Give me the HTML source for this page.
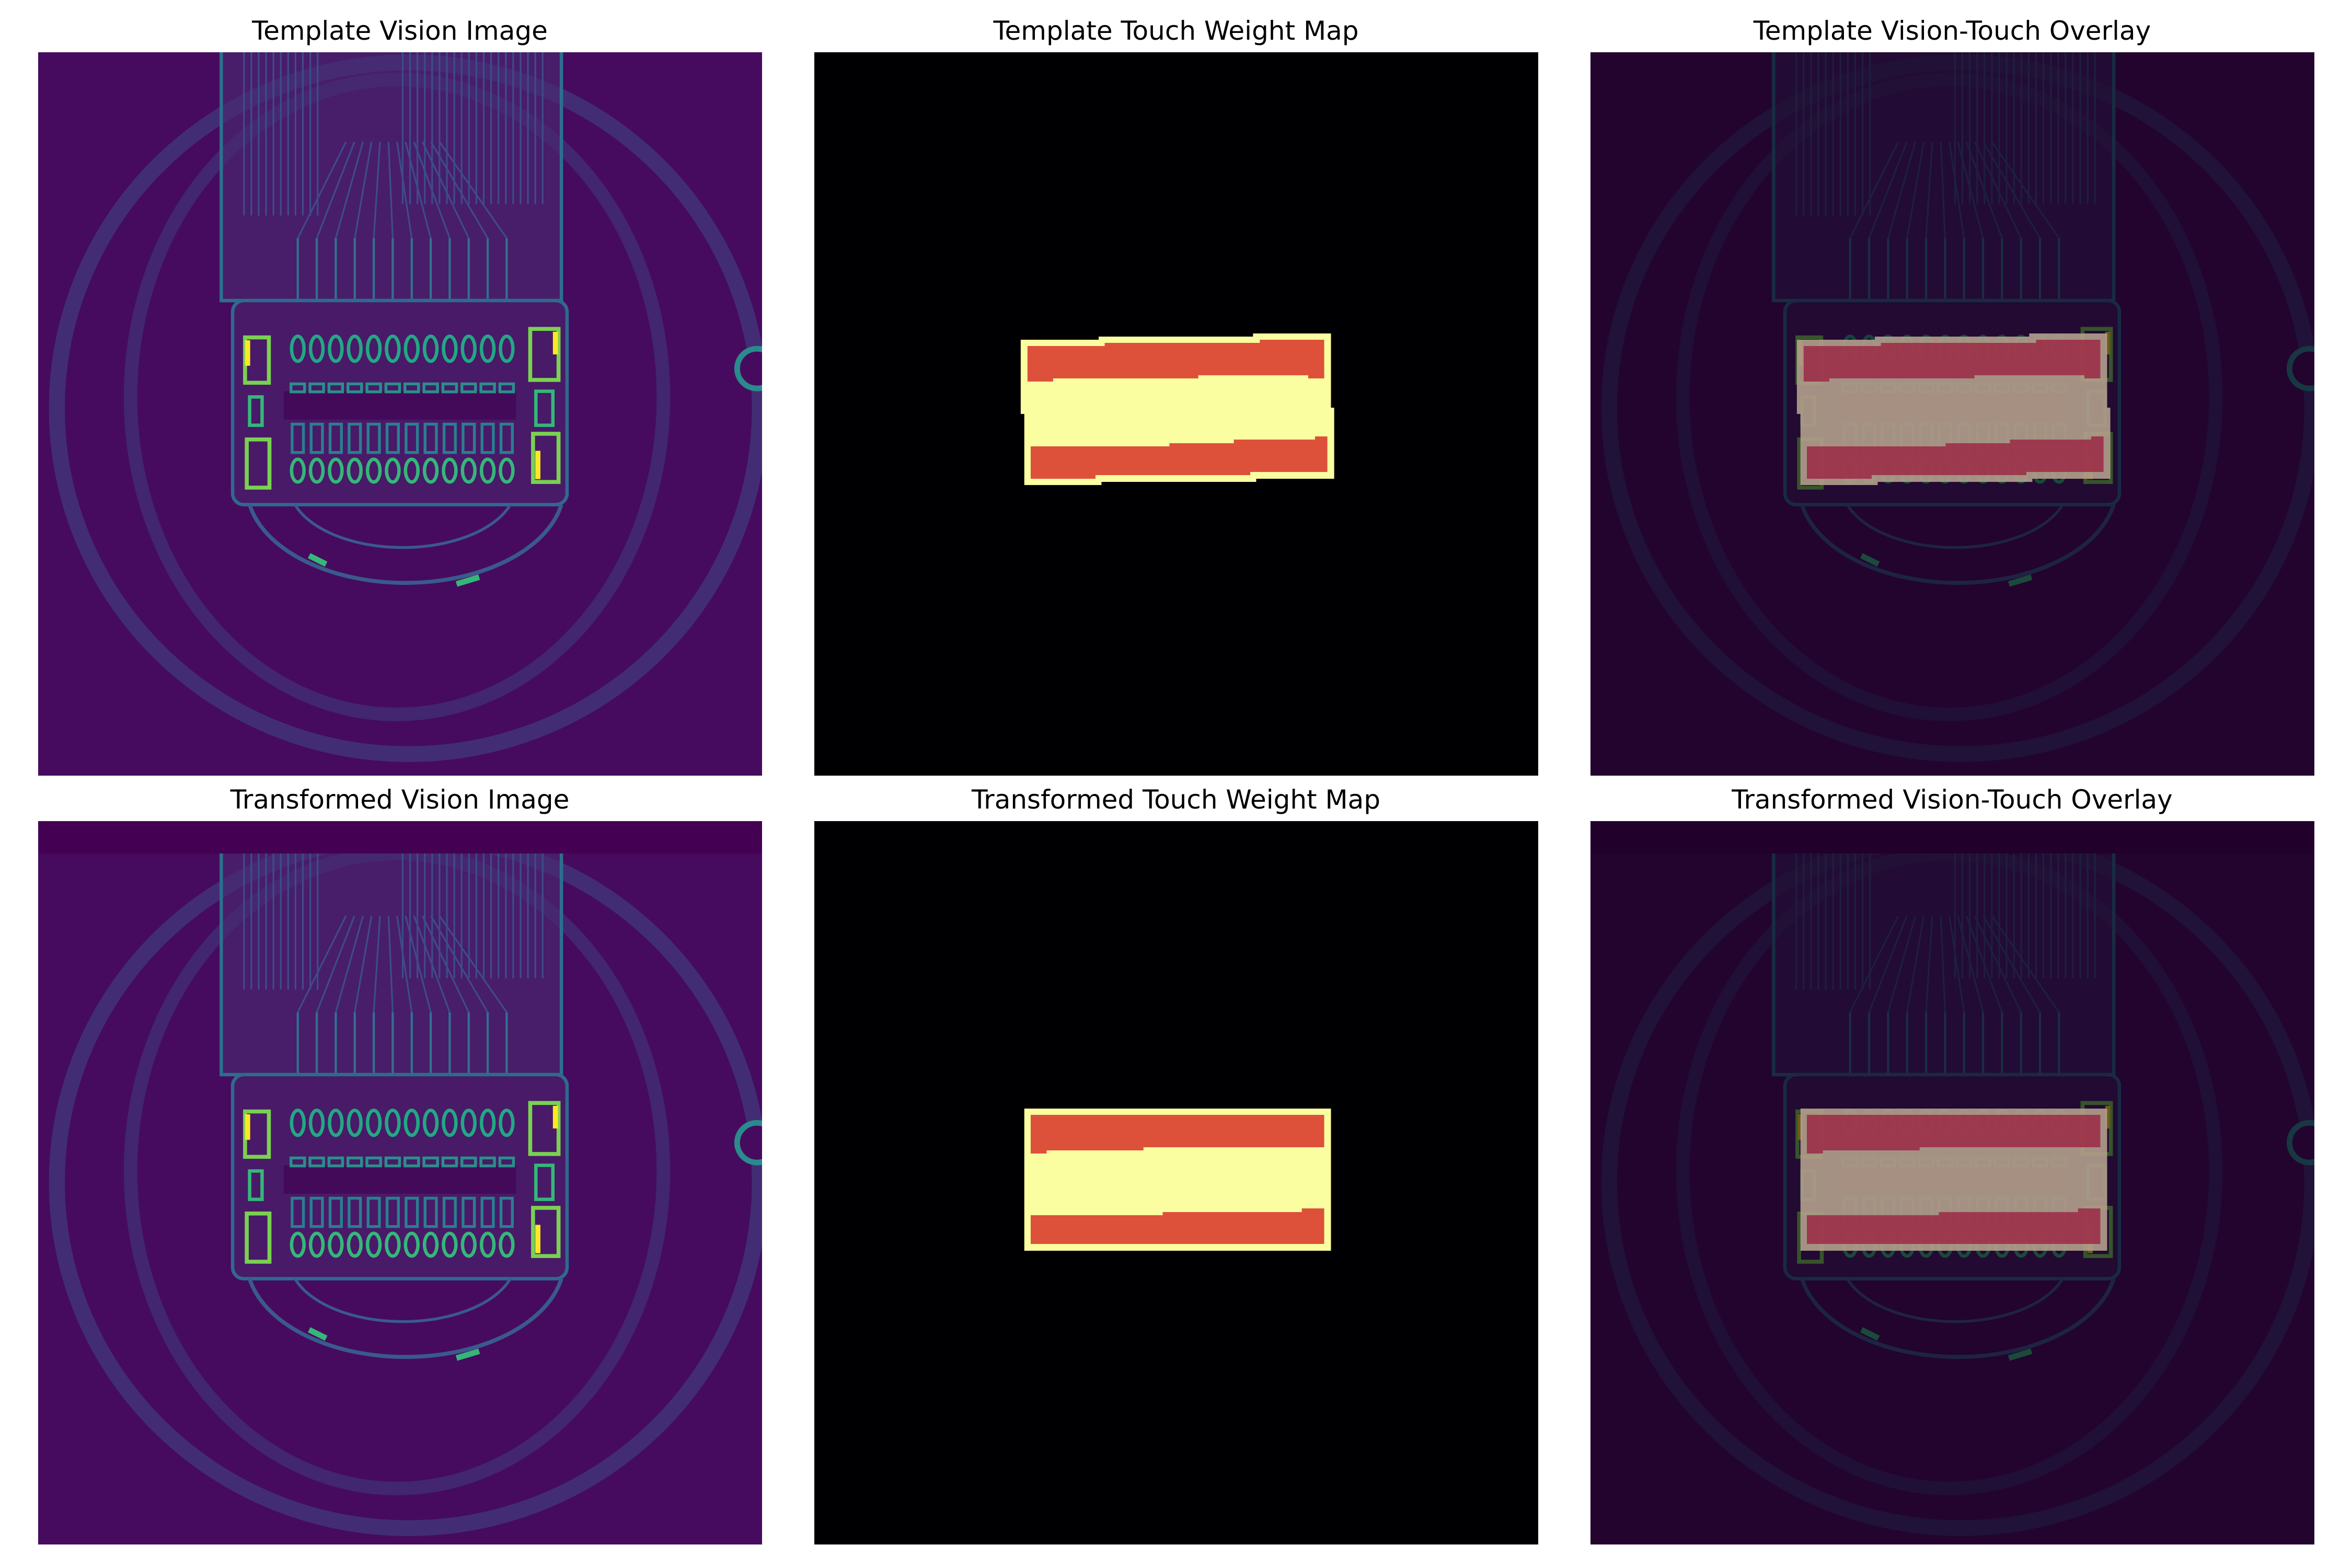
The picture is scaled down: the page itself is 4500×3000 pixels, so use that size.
<!DOCTYPE html>
<html><head><meta charset="utf-8"><style>
html,body{margin:0;padding:0;background:#fff;width:4500px;height:3000px;overflow:hidden}
svg text{font-family:"DejaVu Sans","Liberation Sans",sans-serif;font-size:50px;fill:#000}
</style></head><body>
<svg id="fig" width="4500" height="3000" viewBox="0 0 4500 3000" xmlns="http://www.w3.org/2000/svg">
<defs>
<clipPath id="pc"><rect x="0" y="0" width="1385" height="1384"/></clipPath>
<g id="vis">
 <g transform="scale(1.0846) translate(-67,-92)">
  <rect x="0" y="0" width="1500" height="1500" fill="#460b5e"/>
  <ellipse cx="720" cy="720" rx="620" ry="610" fill="none" stroke="#3d4f8a" stroke-opacity="0.5" stroke-width="28"/>
  <ellipse cx="700" cy="700" rx="470" ry="560" fill="none" stroke="#3d4f8a" stroke-opacity="0.4" stroke-width="24"/>
  <circle cx="1335" cy="650" r="35" fill="#460b5e" stroke="#2b8a8c" stroke-width="10"/>
  <rect x="390" y="60" width="600" height="470" fill="#4a2a72" fill-opacity="0.6" stroke="#2d6f8e" stroke-width="6"/>
  <g id="traces" stroke="#3e4b8a" stroke-width="3" fill="none"></g>
  <rect x="410" y="530" width="590" height="360" rx="20" fill="#481a68" stroke="#2f6a8e" stroke-width="6"/>
  <rect x="500" y="690" width="410" height="50" fill="#440a5a"/>
  <g id="pads" fill="none"></g>
  <rect x="432" y="595" width="42" height="80" fill="none" stroke="#7ad151" stroke-width="7"/>
  <rect x="432" y="600" width="9" height="45" fill="#fde725"/>
  <rect x="440" y="700" width="22" height="50" fill="none" stroke="#35b779" stroke-width="6"/>
  <rect x="435" y="775" width="40" height="85" fill="none" stroke="#7ad151" stroke-width="7"/>
  <rect x="935" y="580" width="50" height="90" fill="none" stroke="#7ad151" stroke-width="7"/>
  <rect x="975" y="585" width="9" height="40" fill="#fde725"/>
  <rect x="945" y="690" width="30" height="60" fill="none" stroke="#35b779" stroke-width="6"/>
  <rect x="940" y="765" width="45" height="85" fill="none" stroke="#7ad151" stroke-width="7"/>
  <rect x="944" y="795" width="9" height="50" fill="#fde725"/>
  <path d="M440,890 A280,170 0 0 0 990,890" fill="none" stroke="#3a5a8c" stroke-width="7"/>
  <path d="M520,890 A200,110 0 0 0 900,890" fill="none" stroke="#3a5a8c" stroke-width="5"/>
  <path d="M545,980 l30,15 M805,1030 l40,-12" stroke="#35b779" stroke-width="10"/>
 </g>
</g>
</defs>

<g id="panels"></g>
</svg>
<script>
// Touch weight map step outlines (reference zoom units)
const topOuter=[[592,300],[787,300],[787,282],[1173,282],[1173,264],[1368,264],[1368,690],[1376,690],[1376,1098],[1181,1098],[1181,1116],[794,1116],[794,1134],[601,1134],[601,726],[592,726]];
const topRedA=[[609,336],[802,336],[802,318],[1190,318],[1190,300],[1351,300],[1351,522],[1311,522],[1311,504],[1036,504],[1036,522],[673,522],[673,540],[609,540]];
const topRedB=[[617,912],[964,912],[964,894],[1125,894],[1125,873],[1328,873],[1328,855],[1359,855],[1359,1059],[1166,1059],[1166,1077],[779,1077],[779,1098],[617,1098]];
const botOuter=[[601,213],[1368,213],[1368,1029],[601,1029]];
const botRedA=[[617,249],[1351,249],[1351,435],[899,435],[899,453],[657,453],[657,471],[617,471]];
const botRedB=[[617,825],[947,825],[947,807],[1295,807],[1295,786],[1351,786],[1351,990],[617,990]];
const titles=["Template Vision Image","Template Touch Weight Map","Template Vision-Touch Overlay","Transformed Vision Image","Transformed Touch Weight Map","Transformed Vision-Touch Overlay"];
const colX=[73,1558,3043], rowY=[100,1571];
const NS="http://www.w3.org/2000/svg";
function mk(t,a,p){const e=document.createElementNS(NS,t);for(const k in a)e.setAttribute(k,a[k]);p.appendChild(e);return e;}
const pts=a=>a.map(p=>p.join(',')).join(' ');
const tr=document.getElementById('traces');
for(let x=430;x<=560;x+=13){mk('line',{x1:x,y1:92,x2:x,y2:380},tr);}
for(let x=710;x<=960;x+=13){mk('line',{x1:x,y1:92,x2:x,y2:360},tr);}
for(let i=0;i<12;i++){const x=525+i*33.5;mk('line',{x1:x,y1:420,x2:x,y2:590,stroke:'#30708e','stroke-width':4},tr);mk('line',{x1:x,y1:420,x2:700+(i-6)*15,y2:250},tr);}
const pd=document.getElementById('pads');
for(let i=0;i<12;i++){const x=525+i*33.5;
 mk('ellipse',{cx:x,cy:615,rx:11,ry:22,stroke:'#22a884','stroke-width':6},pd);
 mk('rect',{x:x-12,y:677,width:24,height:14,stroke:'#2a8f8a','stroke-width':5},pd);
 mk('rect',{x:x-10,y:748,width:20,height:50,stroke:'#2a7f8e','stroke-width':5},pd);
 mk('ellipse',{cx:x,cy:830,rx:11,ry:20,stroke:'#35b779','stroke-width':6},pd);}
const root=document.getElementById('panels');
function touch(g,o,a,b,ov){
 const t=mk('g',{transform:'translate(-58,'+(g.row?479:450)+') scale(0.765,0.33333)'},g.el);
 const o1=mk('polygon',{points:pts(o),fill:ov?'#b4a08c':'#fafda0','fill-opacity':ov?0.9:1},t);
 
 
 const r1=mk('polygon',{points:pts(a),fill:ov?'#9c3048':'#dd513a','fill-opacity':ov?0.9:1},t);
 
 
 const r2=mk('polygon',{points:pts(b),fill:ov?'#9c3048':'#dd513a','fill-opacity':ov?0.9:1},t);
 
 
}
for(let r=0;r<2;r++)for(let c=0;c<3;c++){
 const k=r*3+c;
 const tx=mk('text',{x:colX[c]+692,y:rowY[r]-24,'text-anchor':'middle'},root);
 tx.textContent=titles[k];
 
 
 const g=mk('g',{transform:'translate('+colX[c]+','+rowY[r]+')','clip-path':'url(#pc)'},root);
 
 
 if(c===1){mk('rect',{x:0,y:0,width:1385,height:1384,fill:'#000003'},g);
   if(r===0)touch({el:g,row:0},topOuter,topRedA,topRedB,false);else touch({el:g,row:1},botOuter,botRedA,botRedB,false);
 }else{
   mk('use',{href:'#vis',transform:r?'translate(0,10)':''},g);
   if(r)mk('rect',{x:0,y:0,width:1385,height:62,fill:'#440154'},g);
   if(c===2){mk('rect',{x:0,y:0,width:1385,height:1384,fill:'#0a0010','fill-opacity':0.6},g);
     if(r===0)touch({el:g,row:0},topOuter,topRedA,topRedB,true);else touch({el:g,row:1},botOuter,botRedA,botRedB,true);}
 }
}
</script>
</body></html>
